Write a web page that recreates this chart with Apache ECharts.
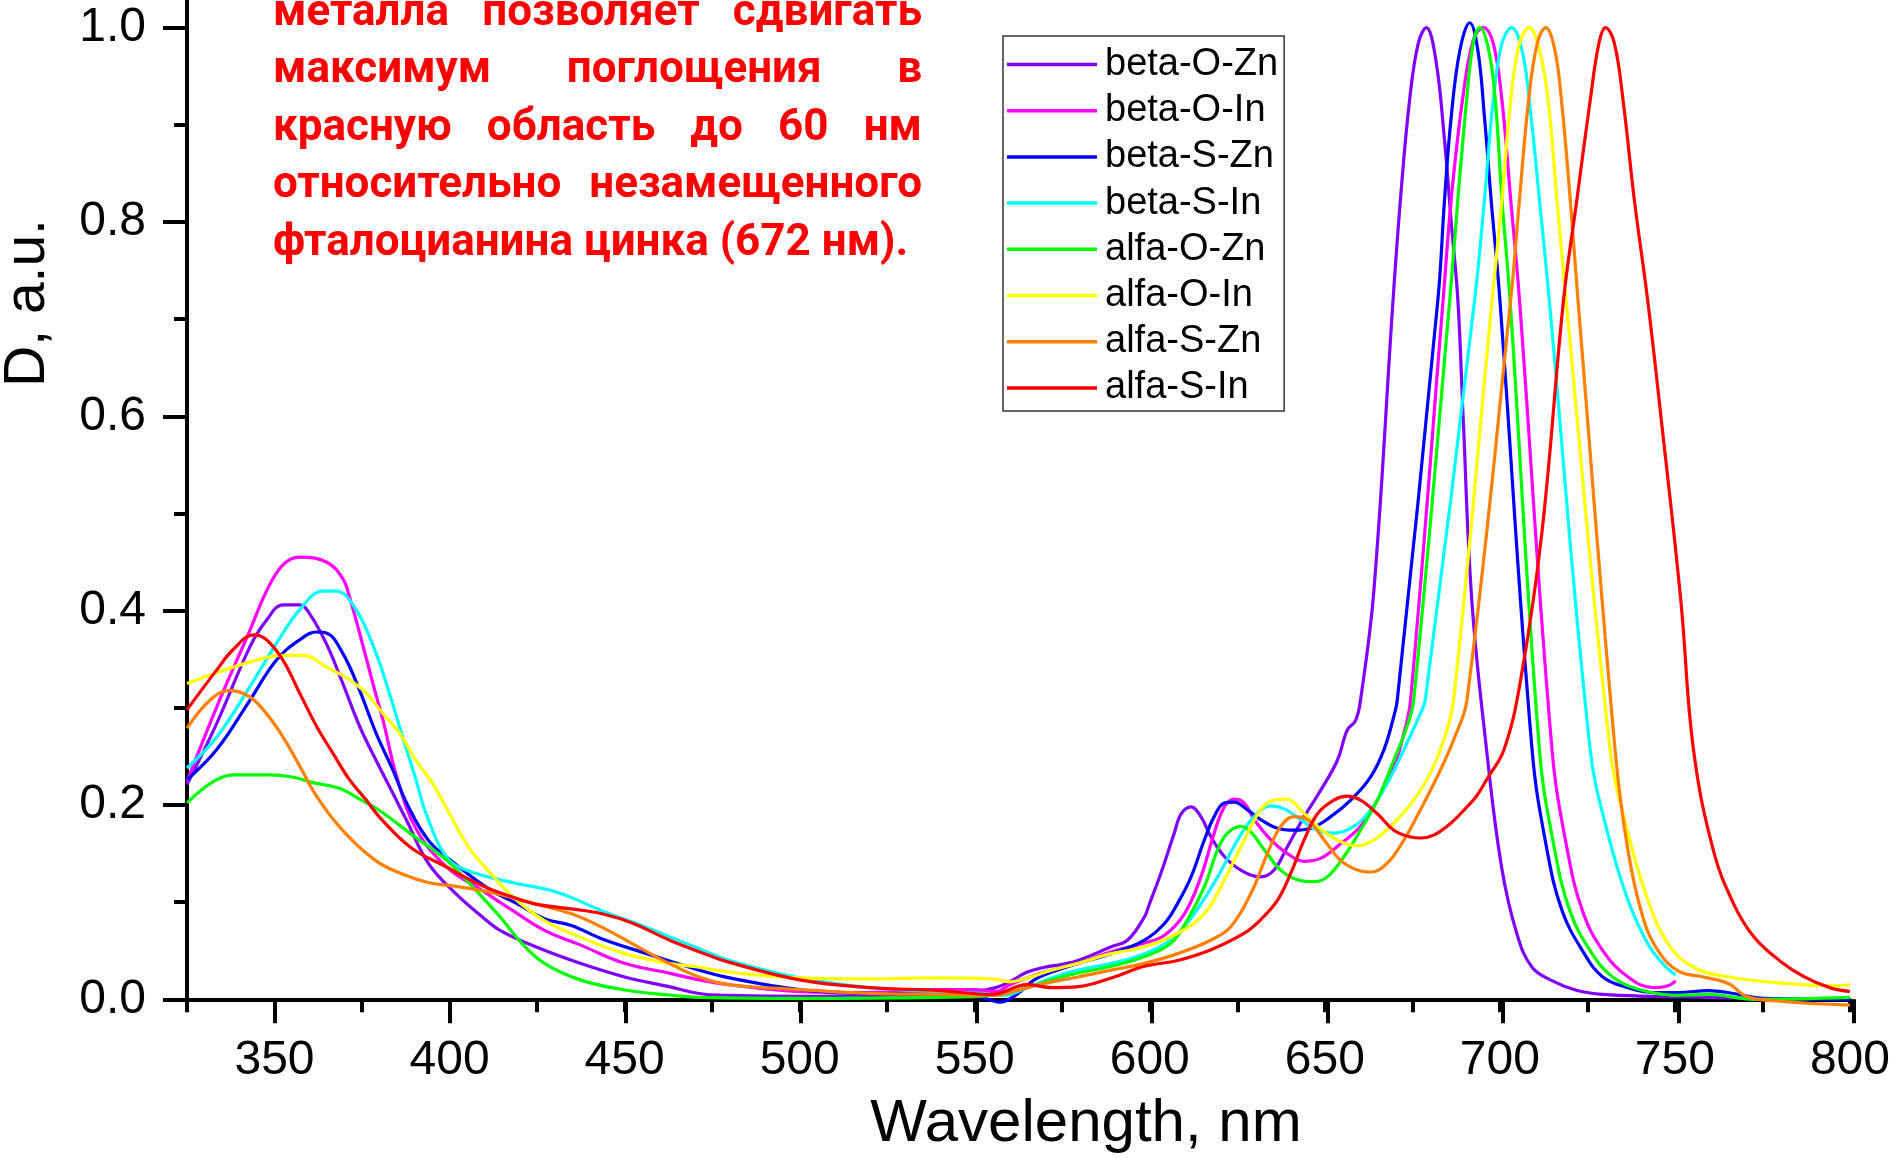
<!DOCTYPE html>
<html>
<head>
<meta charset="utf-8">
<script src="https://cdn.jsdelivr.net/npm/echarts@6/dist/echarts.min.js"></script>
<style>
  html, body { margin: 0; padding: 0; background: #fff; }
  #chart { width: 1893px; height: 1159px; }
</style>
</head>
<body>
<div id="chart"></div>
<script>
// Absorption spectra of substituted phthalocyanines (normalised optical density)

const seriesNames = ['beta-O-Zn', 'beta-O-In', 'beta-S-Zn', 'beta-S-In', 'alfa-O-Zn', 'alfa-O-In', 'alfa-S-Zn', 'alfa-S-In'];
const seriesColors = ['#8000ff', '#ff00ff', '#0000ff', '#00ffff', '#00ff00', '#ffff00', '#ff8000', '#ff0000'];

const xTickLabels = [350, 400, 450, 500, 550, 600, 650, 700, 750, 800];

const betaOZn_nm = [325, 333.5, 343, 347.7, 352.4, 357.2, 360, 364.8, 369.5, 374.3, 379, 383.8, 387.6, 394.1, 401.7, 409.3, 414.4, 424.6, 437.3, 450, 462.7, 471.3, 480, 500, 520, 540, 550, 556, 560, 565, 570, 575, 579.5, 589, 593.7, 598.5, 600, 603.2, 607, 609, 611.8, 614.6, 617.5, 621.3, 626, 631.7, 635.5, 639.3, 644.1, 648.8, 653.6, 656.4, 658.8, 660.2, 664, 669.5, 671.6, 674.2, 676.7, 679, 681.7, 684.2, 686.1, 688, 689.5, 692, 696.2, 700.5, 704.9, 709.2, 715, 722.1, 729.4, 743.8, 760, 787, 800];
const betaOZn_D  = [0.221, 0.284, 0.363, 0.390, 0.406, 0.406, 0.397, 0.366, 0.325, 0.281, 0.246, 0.212, 0.185, 0.139, 0.109, 0.085, 0.071, 0.054, 0.037, 0.023, 0.013, 0.006, 0.004, 0.003, 0.004, 0.005, 0.008, 0.012, 0.018, 0.028, 0.033, 0.036, 0.040, 0.054, 0.061, 0.085, 0.099, 0.130, 0.171, 0.191, 0.198, 0.188, 0.167, 0.147, 0.133, 0.126, 0.133, 0.157, 0.188, 0.215, 0.246, 0.277, 0.287, 0.308, 0.42, 0.72, 0.823, 0.925, 0.984, 1.0, 0.967, 0.884, 0.80, 0.72, 0.60, 0.41, 0.257, 0.136, 0.067, 0.033, 0.019, 0.009, 0.005, 0.003, 0.002, 0.0, 0.001];

const betaOIn_nm = [325, 333.5, 343, 347.7, 352.4, 357.2, 364.8, 369.5, 371.4, 374.3, 378.1, 381, 385, 390.5, 399.2, 409.3, 418.2, 427.1, 437.3, 450, 462.7, 471.3, 480, 500, 520, 540, 550, 556, 560, 565, 570, 579.5, 589, 598.5, 604.2, 609.9, 614.6, 618.4, 621.3, 624.1, 627, 629.8, 634.6, 639.3, 644.1, 648.8, 654.5, 660.2, 665, 669.7, 672.6, 674.5, 683.8, 686.1, 689.3, 692.4, 695.3, 698.1, 700.6, 703.1, 705.6, 714.9, 719.3, 723.6, 729.4, 736.6, 743.8, 748.1, 750.2];
const betaOIn_D  = [0.224, 0.301, 0.380, 0.420, 0.447, 0.455, 0.450, 0.433, 0.414, 0.377, 0.325, 0.287, 0.228, 0.175, 0.136, 0.112, 0.091, 0.071, 0.056, 0.037, 0.027, 0.020, 0.015, 0.008, 0.007, 0.010, 0.010, 0.008, 0.015, 0.022, 0.028, 0.037, 0.049, 0.058, 0.066, 0.088, 0.126, 0.171, 0.198, 0.206, 0.202, 0.185, 0.164, 0.150, 0.142, 0.145, 0.160, 0.178, 0.205, 0.239, 0.274, 0.308, 0.72, 0.823, 0.925, 0.987, 1.0, 0.984, 0.925, 0.823, 0.72, 0.257, 0.153, 0.091, 0.050, 0.023, 0.012, 0.014, 0.019];

const betaSZn_nm = [325, 333.5, 343, 350.5, 357.2, 362, 364.8, 369.5, 374.3, 379, 383.8, 388, 394.1, 401.7, 411.9, 419.5, 427.1, 434.8, 443.6, 456.3, 471.3, 480, 500, 520, 540, 552, 557, 562, 567, 572, 579.5, 589, 598.5, 604.2, 608, 611.8, 615.6, 618.4, 621.3, 624.1, 627.9, 631.7, 636.5, 641.2, 646, 651.7, 657.4, 663.1, 666.9, 669.7, 670.7, 682.3, 684.2, 686.1, 688.6, 691.4, 693.7, 695.6, 697.5, 700, 709.2, 713.5, 717.8, 723.6, 729.4, 736.6, 743.8, 751, 759.6, 766.8, 775.5, 800];
const betaSZn_D  = [0.226, 0.257, 0.308, 0.349, 0.370, 0.378, 0.377, 0.356, 0.318, 0.274, 0.236, 0.200, 0.163, 0.139, 0.112, 0.098, 0.083, 0.076, 0.062, 0.047, 0.030, 0.022, 0.010, 0.006, 0.005, 0.002, -0.003, 0.005, 0.020, 0.028, 0.037, 0.047, 0.061, 0.078, 0.099, 0.126, 0.164, 0.188, 0.202, 0.203, 0.195, 0.185, 0.176, 0.174, 0.176, 0.188, 0.205, 0.229, 0.257, 0.291, 0.308, 0.72, 0.823, 0.908, 0.977, 1.005, 0.977, 0.908, 0.823, 0.72, 0.257, 0.153, 0.091, 0.050, 0.023, 0.012, 0.007, 0.007, 0.009, 0.006, 0.001, 0.0];

const betaSIn_nm = [325, 333.5, 343, 350.5, 357.2, 363.8, 367.6, 373.3, 379, 382.8, 386.6, 390.4, 393.3, 399.2, 405.5, 418.2, 430.9, 443.6, 456.3, 471.3, 480, 500, 520, 540, 552, 558, 565, 572, 579.5, 589, 598.5, 607, 612.7, 619.4, 625.1, 629.8, 634.6, 638.4, 643.1, 647.9, 652.6, 658.3, 663.1, 667.8, 672.6, 677.3, 678.7, 692.8, 695.6, 698.1, 700.6, 703.4, 706.3, 708.4, 711.3, 714.1, 725.8, 730.8, 736.6, 742.3, 746.7, 750.2];
const betaSIn_D  = [0.238, 0.270, 0.322, 0.366, 0.401, 0.420, 0.420, 0.401, 0.356, 0.315, 0.270, 0.226, 0.191, 0.146, 0.132, 0.120, 0.110, 0.091, 0.074, 0.052, 0.040, 0.022, 0.012, 0.008, 0.006, 0.004, 0.012, 0.022, 0.030, 0.037, 0.047, 0.064, 0.088, 0.126, 0.164, 0.188, 0.199, 0.196, 0.185, 0.174, 0.171, 0.178, 0.195, 0.222, 0.257, 0.294, 0.308, 0.72, 0.823, 0.925, 0.984, 1.0, 0.977, 0.925, 0.823, 0.72, 0.257, 0.171, 0.102, 0.057, 0.036, 0.025];

const alfaOZn_nm = [325, 338.2, 348.3, 354.7, 361, 368.7, 373.8, 380.1, 389, 399.2, 406.8, 414.4, 420.8, 427.1, 437.3, 450, 462.7, 471.3, 500, 540, 555, 565, 572, 579.5, 589, 598.5, 606.1, 610.8, 615.6, 619.4, 622.2, 626, 628.9, 632.7, 637.4, 642.2, 646.9, 650.7, 655.5, 660.2, 665, 669.7, 673.5, 675.4, 685.7, 688, 690.5, 692.4, 694.3, 696.8, 698.7, 700.6, 702.9, 711.3, 715.7, 720, 725.8, 732.2, 740.9, 751, 759.6, 772.6, 800];
const alfaOZn_D  = [0.202, 0.231, 0.231, 0.229, 0.223, 0.217, 0.207, 0.194, 0.170, 0.143, 0.115, 0.085, 0.057, 0.037, 0.020, 0.0096, 0.0044, 0.002, 0.001, 0.002, 0.004, 0.012, 0.020, 0.027, 0.034, 0.044, 0.058, 0.082, 0.116, 0.154, 0.171, 0.178, 0.172, 0.154, 0.133, 0.123, 0.121, 0.126, 0.147, 0.174, 0.205, 0.246, 0.281, 0.308, 0.72, 0.823, 0.925, 0.984, 1.0, 0.977, 0.925, 0.823, 0.72, 0.257, 0.153, 0.091, 0.050, 0.023, 0.009, 0.004, 0.005, 0.0, 0.002];

const alfaOIn_nm = [325, 333.5, 343, 352.4, 358.2, 364.8, 371.4, 376.2, 381, 385.7, 390.4, 395.2, 400, 405.5, 411.9, 418.2, 427.1, 437.3, 450, 462.7, 471.3, 480, 500, 520, 540, 555, 560, 565, 572, 579.5, 589, 598.5, 608, 615.6, 621.3, 627, 631.7, 635.5, 639.3, 643.1, 647.9, 653.6, 659.3, 664, 669.7, 675.4, 680.2, 684, 686.8, 697.8, 700.6, 703.1, 705.6, 708.4, 711.3, 713.8, 716.3, 718.9, 731.5, 736.6, 742.3, 748.1, 755.3, 765.4, 779.8, 794.2, 800];
const alfaOIn_D  = [0.325, 0.336, 0.347, 0.354, 0.354, 0.342, 0.329, 0.315, 0.294, 0.274, 0.246, 0.222, 0.191, 0.156, 0.129, 0.105, 0.081, 0.064, 0.047, 0.037, 0.033, 0.028, 0.022, 0.021, 0.022, 0.021, 0.018, 0.022, 0.030, 0.037, 0.047, 0.054, 0.068, 0.088, 0.123, 0.164, 0.195, 0.205, 0.206, 0.195, 0.178, 0.164, 0.158, 0.164, 0.181, 0.205, 0.233, 0.267, 0.308, 0.72, 0.823, 0.925, 0.984, 1.0, 0.977, 0.925, 0.823, 0.72, 0.257, 0.171, 0.102, 0.057, 0.033, 0.023, 0.017, 0.014, 0.015];

const alfaSZn_nm = [325, 331.6, 337.2, 343, 347.7, 352.4, 357.2, 362, 368.7, 378.8, 386.5, 394.1, 400.4, 411.9, 424.6, 434.8, 443.6, 453.8, 462.7, 471.3, 480, 500, 520, 540, 555, 565, 572, 579.5, 589, 598.5, 608, 617.5, 623.2, 628.9, 633.6, 637.4, 641.2, 645, 649.8, 654.5, 659.3, 663.1, 667.8, 672.6, 677.3, 682.1, 686.8, 690.6, 703.1, 705.6, 708.2, 710.7, 713.1, 715.7, 717.6, 720.1, 722.3, 732.9, 736.6, 740.9, 745.2, 751, 758.2, 765.4, 770.4, 780, 800];
const alfaSZn_D  = [0.279, 0.308, 0.318, 0.311, 0.294, 0.270, 0.240, 0.209, 0.177, 0.143, 0.129, 0.120, 0.117, 0.110, 0.098, 0.088, 0.074, 0.054, 0.037, 0.023, 0.015, 0.010, 0.006, 0.005, 0.004, 0.012, 0.018, 0.023, 0.030, 0.037, 0.047, 0.061, 0.075, 0.109, 0.150, 0.178, 0.188, 0.185, 0.164, 0.143, 0.133, 0.131, 0.140, 0.164, 0.195, 0.229, 0.267, 0.308, 0.72, 0.823, 0.925, 0.984, 1.0, 0.977, 0.925, 0.823, 0.72, 0.257, 0.153, 0.084, 0.050, 0.029, 0.023, 0.016, 0.003, -0.002, -0.006];

const alfaSIn_nm = [325, 333.5, 338.2, 344, 347.7, 352.4, 357.2, 362, 366.7, 371.4, 376.2, 380.1, 389, 399.2, 409.3, 418.2, 424.6, 434.8, 443.6, 452.5, 462.7, 471.3, 480, 500, 520, 540, 555, 565, 572, 579.5, 589, 598.5, 608, 617.5, 627, 631.7, 636.5, 640.3, 644.1, 647.9, 652.6, 656.4, 660.2, 665, 669.7, 674.5, 677.3, 681.1, 685.9, 690.6, 693.5, 696.2, 701.2, 706, 712, 718.2, 722, 725.8, 728.3, 730.2, 732.7, 735.2, 738.4, 742.2, 746, 751.7, 755.3, 761, 766.8, 772.6, 779.8, 787, 794.2, 800];
const alfaSIn_D  = [0.298, 0.339, 0.360, 0.375, 0.370, 0.349, 0.315, 0.281, 0.253, 0.226, 0.205, 0.187, 0.156, 0.136, 0.117, 0.105, 0.098, 0.093, 0.088, 0.078, 0.061, 0.049, 0.038, 0.020, 0.012, 0.009, 0.005, 0.015, 0.012, 0.013, 0.022, 0.034, 0.040, 0.051, 0.068, 0.082, 0.102, 0.130, 0.164, 0.191, 0.205, 0.209, 0.205, 0.191, 0.174, 0.167, 0.166, 0.169, 0.181, 0.198, 0.210, 0.226, 0.257, 0.33, 0.48, 0.72, 0.823, 0.925, 0.984, 1.0, 0.984, 0.925, 0.823, 0.72, 0.60, 0.41, 0.257, 0.153, 0.098, 0.064, 0.040, 0.023, 0.012, 0.008];

const seriesX = [betaOZn_nm, betaOIn_nm, betaSZn_nm, betaSIn_nm, alfaOZn_nm, alfaOIn_nm, alfaSZn_nm, alfaSIn_nm];
const seriesY = [betaOZn_D, betaOIn_D, betaSZn_D, betaSIn_D, alfaOZn_D, alfaOIn_D, alfaSZn_D, alfaSIn_D];

// Red annotation (justified paragraph fragment)
const noteLines = [
  'металла позволяет сдвигать',
  'максимум поглощения в',
  'красную область до 60 нм',
  'относительно незамещенного',
  'фталоцианина цинка (672 нм).'
];

const AXIS_FONT = '"Liberation Sans", Arial, sans-serif';
const NOTE_FONT_FAMILY = 'Roboto, "Noto Sans", sans-serif';
const NOTE_SIZE = 44;

const chart = echarts.init(document.getElementById('chart'), null, { renderer: 'canvas' });

const series = seriesNames.map((name, i) => ({
  name: name,
  type: 'line',
  xAxisIndex: 0,
  yAxisIndex: 0,
  data: seriesX[i].map((x, k) => [x, seriesY[i][k]]),
  showSymbol: false,
  symbol: 'none',
  smooth: 0.4,
  clip: false,
  lineStyle: { width: 3.2, color: seriesColors[i], join: 'round' },
  itemStyle: { color: seriesColors[i] },
  z: 2 + i
}));

// Justified text layout for the annotation
function buildNote() {
  const cv = document.createElement('canvas');
  const ctx = cv.getContext('2d');
  const font = 'bold ' + NOTE_SIZE + 'px ' + NOTE_FONT_FAMILY;
  ctx.font = font;
  const left = 273, right = 922, firstBase = 28.5, step = 57.5;
  const els = [];
  noteLines.forEach((line, li) => {
    const words = line.split(' ');
    const widths = words.map(w => ctx.measureText(w).width);
    const total = widths.reduce((a, b) => a + b, 0);
    const last = li === noteLines.length - 1;
    const gap = last ? ctx.measureText(' ').width : (right - left - total) / (words.length - 1);
    let x = left;
    const yMid = firstBase + li * step - 0.34 * NOTE_SIZE;
    words.forEach((w, wi) => {
      els.push({
        type: 'text',
        x: x, y: yMid,
        silent: true,
        style: { text: w, font: font, fill: '#ff0000', verticalAlign: 'middle', align: 'left' },
        z: 10
      });
      x += widths[wi] + gap;
    });
  });
  return els;
}

const option = {
  animation: false,
  backgroundColor: '#ffffff',
  grid: [
    { left: 187, right: 39, top: 27.6, bottom: 159.7 },
    { left: 187, right: 39, top: 0, bottom: 159.7 }
  ],
  xAxis: [
    {
      type: 'value', gridIndex: 0, min: 325, max: 800, interval: 25,
      axisLine: { show: true, lineStyle: { color: '#000', width: 4 } },
      axisTick: { show: true, length: 13, lineStyle: { color: '#000', width: 4 } },
      axisLabel: {
        show: true, margin: 37, color: '#000', fontFamily: AXIS_FONT, fontSize: 48,
        formatter: v => (xTickLabels.indexOf(v) >= 0 ? String(v) : '')
      },
      splitLine: { show: false }
    },
    {
      type: 'value', gridIndex: 1, min: 325, max: 800,
      axisLine: { show: false },
      axisTick: { show: true, length: 24, customValues: xTickLabels, lineStyle: { color: '#000', width: 4 } },
      axisLabel: { show: false },
      splitLine: { show: false }
    }
  ],
  yAxis: [
    {
      type: 'value', gridIndex: 0, min: 0, max: 1, interval: 0.2,
      axisLine: { show: true, lineStyle: { color: '#000', width: 4 } },
      axisTick: { show: true, length: 24, lineStyle: { color: '#000', width: 4 } },
      minorTick: { show: true, splitNumber: 2, length: 13, lineStyle: { color: '#000', width: 4 } },
      axisLabel: { show: true, margin: 41, color: '#000', fontFamily: AXIS_FONT, fontSize: 48,
        formatter: v => v.toFixed(1) },
      splitLine: { show: false },
      minorSplitLine: { show: false }
    },
    {
      type: 'value', gridIndex: 1, min: 0, max: 1,
      axisLine: { show: true, lineStyle: { color: '#000', width: 4 } },
      axisTick: { show: false },
      axisLabel: { show: false },
      splitLine: { show: false }
    }
  ],
  legend: {
    orient: 'vertical',
    left: 1003, top: 36,
    padding: [9.5, 6, 4, 4],
    borderColor: '#333', borderWidth: 1.5,
    backgroundColor: '#fff',
    icon: 'rect',
    itemWidth: 90, itemHeight: 3.5,
    itemGap: 8.2,
    selectedMode: false,
    textStyle: { fontFamily: AXIS_FONT, fontSize: 38, color: '#000', lineHeight: 38, padding: [0, 0, 0, 3] },
    data: seriesNames
  },
  graphic: [
    {
      type: 'text', x: 1086, y: 1124.5, silent: true,
      style: { text: 'Wavelength, nm', font: '60px ' + AXIS_FONT, fill: '#000', align: 'center', verticalAlign: 'middle' }
    },
    {
      type: 'text', x: 28, y: 303, rotation: Math.PI / 2, silent: true,
      style: { text: 'D, a.u.', font: '57px ' + AXIS_FONT, fill: '#000', align: 'center', verticalAlign: 'middle' }
    }
  ].concat(buildNote()),
  series: series
};

chart.setOption(option);
</script>
</body>
</html>
